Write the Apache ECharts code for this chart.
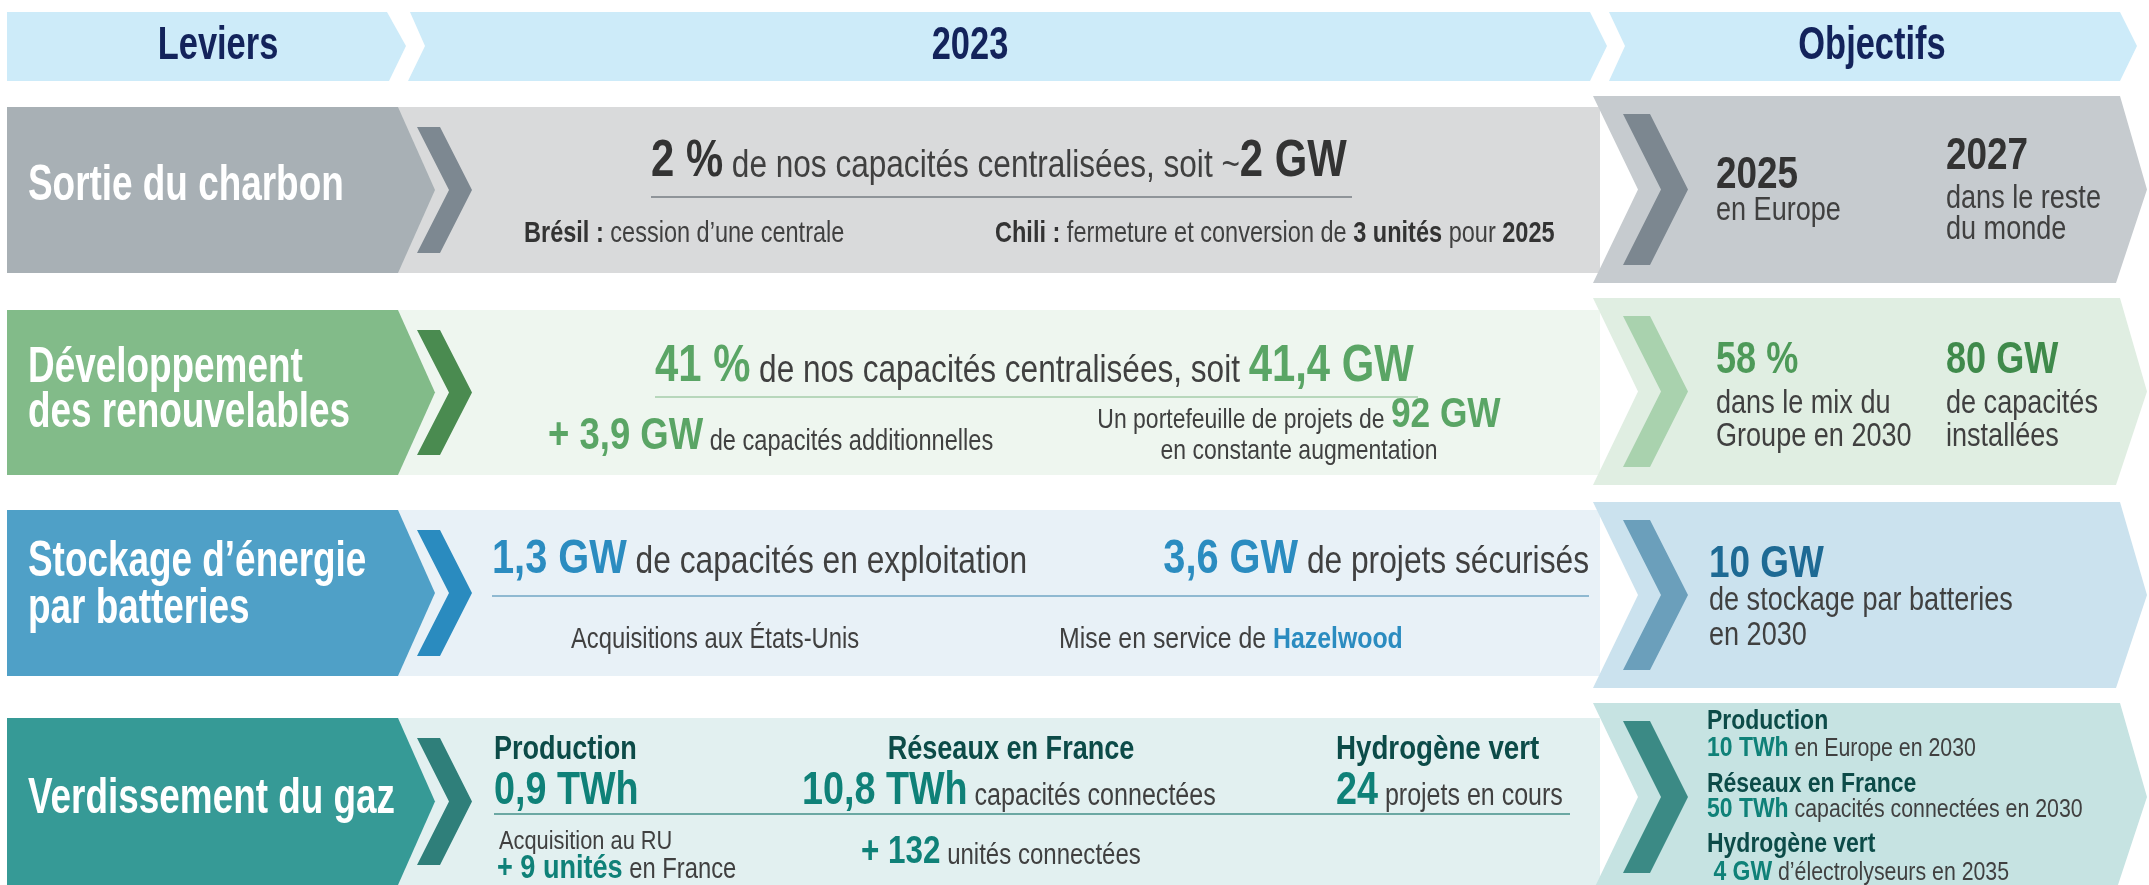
<!DOCTYPE html>
<html><head><meta charset="utf-8">
<script src="https://cdn.jsdelivr.net/npm/echarts@6/dist/echarts.min.js"></script>
<style>html,body{margin:0;padding:0;background:#fff}#c{width:2149px;height:885px}</style>
</head><body><div id="c"></div>
<script>
// ---------- content (texts / values) ----------
const headerLabels = ['Leviers', '2023', 'Objectifs'];
const leverNames = [['Sortie du charbon'], ['Développement', 'des renouvelables'], ['Stockage d’énergie', 'par batteries'], ['Verdissement du gaz']];
const coalShare = ['2 %', ' de nos capacités centralisées, soit ~', '2 GW'];
const coalBrazil = ['Brésil :', ' cession d’une centrale'];
const coalChile = ['Chili :', ' fermeture et conversion de ', '3 unités', ' pour ', '2025'];
const coalTargets = [['2025', 'en Europe'], ['2027', 'dans le reste', 'du monde']];
const renewShare = ['41 %', ' de nos capacités centralisées, soit ', '41,4 GW'];
const renewAdded = ['+ 3,9 GW', ' de capacités additionnelles'];
const renewPipeline = ['Un portefeuille de projets de ', '92 GW', 'en constante augmentation'];
const renewTargets = [['58 %', 'dans le mix du', 'Groupe en 2030'], ['80 GW', 'de capacités', 'installées']];
const storageOperating = ['1,3 GW', ' de capacités en exploitation'];
const storageSecured = ['3,6 GW', ' de projets sécurisés'];
const storageUS = ['Acquisitions aux États-Unis'];
const storageHazelwood = ['Mise en service de ', 'Hazelwood'];
const storageTarget = ['10 GW', 'de stockage par batteries', 'en 2030'];
const gasHeads = ['Production', 'Réseaux en France', 'Hydrogène vert'];
const gasValues = ['0,9 TWh', '10,8 TWh', '24'];
const gasUnits = ['', ' capacités connectées', ' projets en cours'];
const gasUK = ['Acquisition au RU', '+ 9 unités', ' en France'];
const gasUnitsConnected = ['+ 132', ' unités connectées'];
const gasTargetHeads = ['Production', 'Réseaux en France', 'Hydrogène vert'];
const gasTargetValues = ['10 TWh', '50 TWh', ' 4 GW'];
const gasTargetTexts = [' en Europe en 2030', ' capacités connectées en 2030', ' d’électrolyseurs en 2035'];

// ---------- layout / style ----------
const SX = 0.82;
const FF = '"Liberation Sans", Arial, sans-serif';
const cv = document.createElement('canvas').getContext('2d');
function measure(t, size, weight) { cv.font = weight + ' ' + size + 'px ' + FF; return cv.measureText(t).width * SX; }
const els = [];
function line(x, base, parts, align, sy) {
  sy = sy || 1;
  const ws = parts.map(p => measure(p[0], p[1], p[2]));
  const total = ws.reduce((a, b) => a + b, 0);
  let cx = align === 'center' ? x - total / 2 : align === 'right' ? x - total : x;
  parts.forEach((p, i) => {
    const off = 0.3465 * p[1];
    els.push({ type: 'text', silent: true, x: cx, y: base - off, scaleX: SX, scaleY: sy, originX: 0, originY: off, z: 10,
      style: { x: 0, y: 0, text: p[0], font: p[2] + ' ' + p[1] + 'px ' + FF, fill: p[3], textAlign: 'left', textVerticalAlign: 'middle' } });
    cx += ws[i];
  });
}
function poly(pts, fill) { els.push({ type: 'polygon', silent: true, shape: { points: pts }, style: { fill: fill } }); }
function hline(x1, x2, y, color) { els.push({ type: 'line', silent: true, z: 5, shape: { x1: x1, y1: y, x2: x2, y2: y }, style: { stroke: color, lineWidth: 2 } }); }

// header
const HB = '#cdebf9', NAVY = '#13235b';
poly([[7, 12], [387, 12], [406, 46], [389, 81], [7, 81]], HB);
poly([[410, 12], [1590, 12], [1607, 46], [1590, 81], [408, 81], [425, 46]], HB);
poly([[1609, 12], [2120, 12], [2137, 46], [2120, 81], [1609, 81], [1625, 46]], HB);
line(218, 62, [[headerLabels[0], 42, 'bold', NAVY]], 'center', 1.1);
line(970, 62, [[headerLabels[1], 42, 'bold', NAVY]], 'center', 1.1);
line(1872, 62, [[headerLabels[2], 42, 'bold', NAVY]], 'center', 1.1);

// rows geometry
const rows = [
  { t: 107, b: 273, ot: 96, ob: 283, box: '#a8b0b5', bg: '#d9dadb', st: '#7d8891', obox: '#c6cbcf', ost: '#7c8790' },
  { t: 310, b: 475, ot: 298, ob: 485, box: '#82bb89', bg: '#eef6ef', st: '#4a8b50', obox: '#e0eee2', ost: '#a9d2ae' },
  { t: 510, b: 676, ot: 502, ob: 688, box: '#4fa0c7', bg: '#e8f1f7', st: '#2a8bbf', obox: '#cbe2ee', ost: '#6b9fbb' },
  { t: 718, b: 885, ot: 703, ob: 891, box: '#369a96', bg: '#e2f0f0', st: '#2f7f7a', obox: '#c6e3e2', ost: '#3b8a85' }
];
rows.forEach(r => {
  const m = (r.t + r.b) / 2, om = (r.ot + r.ob) / 2;
  poly([[398, r.t], [1600, r.t], [1600, r.b], [398, r.b]], r.bg);
  poly([[7, r.t], [398, r.t], [435, m], [398, r.b], [7, r.b]], r.box);
  const st = r.t + 20, sb = r.b - 20;
  poly([[417, st], [440, st], [472, m], [440, sb], [417, sb], [449, m]], r.st);
  poly([[1593, r.ot], [2120, r.ot], [2147, om], [2116, r.ob], [1593, r.ob], [1638, om]], r.obox);
  const ost = r.ot + 18, osb = r.ob - 18;
  poly([[1623, ost], [1650, ost], [1688, om], [1650, osb], [1623, osb], [1661, om]], r.ost);
});

// lever names
const W = '#ffffff', LX = 28, LF = 45, LY = 1.1;
line(LX, 204, [[leverNames[0][0], LF, 'bold', W]], 'left', LY);
line(LX, 386, [[leverNames[1][0], LF, 'bold', W]], 'left', LY);
line(LX, 431, [[leverNames[1][1], LF, 'bold', W]], 'left', LY);
line(LX, 580, [[leverNames[2][0], LF, 'bold', W]], 'left', LY);
line(LX, 627, [[leverNames[2][1], LF, 'bold', W]], 'left', LY);
line(LX, 817, [[leverNames[3][0], LF, 'bold', W]], 'left', LY);

const DK = '#333333', TX = '#404040';
// row 1 — coal
line(651, 180, [[coalShare[0], 51, 'bold', DK], [coalShare[1], 38.5, 'normal', TX], [coalShare[2], 51, 'bold', DK]], 'left');
hline(651, 1352, 197, '#8f9499');
line(524, 244, [[coalBrazil[0], 28.7, 'bold', DK], [coalBrazil[1], 28.7, 'normal', TX]], 'left');
line(995, 244, [[coalChile[0], 28.7, 'bold', DK], [coalChile[1], 28.7, 'normal', TX], [coalChile[2], 28.7, 'bold', DK], [coalChile[3], 28.7, 'normal', TX], [coalChile[4], 28.7, 'bold', DK]], 'left');
line(1716, 191, [[coalTargets[0][0], 45, 'bold', DK]], 'left');
line(1716, 222, [[coalTargets[0][1], 33, 'normal', TX]], 'left');
line(1946, 172, [[coalTargets[1][0], 45, 'bold', DK]], 'left');
line(1946, 210, [[coalTargets[1][1], 33, 'normal', TX]], 'left');
line(1946, 241, [[coalTargets[1][2], 33, 'normal', TX]], 'left');

// row 2 — renewables
const G = '#5aa565';
line(655, 385, [[renewShare[0], 51, 'bold', G], [renewShare[1], 38.5, 'normal', TX], [renewShare[2], 51, 'bold', G]], 'left');
hline(655, 1418, 397, '#b7d7bb');
line(548, 452, [[renewAdded[0], 44.5, 'bold', G], [renewAdded[1], 28.8, 'normal', TX]], 'left');
line(1299, 430, [[renewPipeline[0], 28, 'normal', TX], [renewPipeline[1], 43, 'bold', G]], 'center');
line(1299, 461, [[renewPipeline[2], 28, 'normal', TX]], 'center');
line(1716, 376, [[renewTargets[0][0], 44, 'bold', '#4e9a59']], 'left');
line(1716, 415, [[renewTargets[0][1], 33, 'normal', TX]], 'left');
line(1716, 448, [[renewTargets[0][2], 33, 'normal', TX]], 'left');
line(1946, 376, [[renewTargets[1][0], 44, 'bold', '#3f8a4b']], 'left');
line(1946, 415, [[renewTargets[1][1], 33, 'normal', TX]], 'left');
line(1946, 448, [[renewTargets[1][2], 33, 'normal', TX]], 'left');

// row 3 — storage
const B = '#2b8cc0';
line(492, 576, [[storageOperating[0], 48.5, 'bold', B], [storageOperating[1], 38.7, 'normal', TX]], 'left');
line(1589, 576, [[storageSecured[0], 48.5, 'bold', B], [storageSecured[1], 38.7, 'normal', TX]], 'right');
hline(492, 1589, 596, '#8fb9d1');
line(571, 650, [[storageUS[0], 29, 'normal', TX]], 'left');
line(1059, 650, [[storageHazelwood[0], 30.3, 'normal', TX], [storageHazelwood[1], 30.3, 'bold', B]], 'left');
line(1709, 580, [[storageTarget[0], 45, 'bold', '#1e6a94']], 'left');
line(1709, 612, [[storageTarget[1], 33, 'normal', TX]], 'left');
line(1709, 647, [[storageTarget[2], 33, 'normal', TX]], 'left');

// row 4 — gas
const T = '#0f8178', TD = '#0c4b48';
line(494, 761, [[gasHeads[0], 33, 'bold', TD]], 'left');
line(494, 807, [[gasValues[0], 46, 'bold', T], [gasUnits[0], 31, 'normal', TX]], 'left');
line(1011, 761, [[gasHeads[1], 33, 'bold', TD]], 'center');
line(802, 807, [[gasValues[1], 46, 'bold', T], [gasUnits[1], 30.6, 'normal', TX]], 'left');
line(1336, 761, [[gasHeads[2], 33.8, 'bold', TD]], 'left');
line(1336, 807, [[gasValues[2], 46, 'bold', T], [gasUnits[2], 30.5, 'normal', TX]], 'left');
hline(494, 1570, 814, '#6ba8a3');
line(499, 851, [[gasUK[0], 26.6, 'normal', TX]], 'left');
line(497, 880, [[gasUK[1], 33, 'bold', T], [gasUK[2], 29, 'normal', TX]], 'left');
line(861, 866, [[gasUnitsConnected[0], 38.3, 'bold', T], [gasUnitsConnected[1], 29.3, 'normal', TX]], 'left');
const gb = [[731, 758], [794, 819], [854, 882]];
for (let i = 0; i < 3; i++) {
  line(1707, gb[i][0], [[gasTargetHeads[i], 28, 'bold', TD]], 'left');
  line(1707, gb[i][1], [[gasTargetValues[i], 28, 'bold', T], [gasTargetTexts[i], 26, 'normal', TX]], 'left');
}

const chart = echarts.init(document.getElementById('c'), null, { renderer: 'canvas', width: 2149, height: 885 });
chart.setOption({ backgroundColor: '#ffffff', animation: false, graphic: { elements: els } });
</script>
</body></html>
